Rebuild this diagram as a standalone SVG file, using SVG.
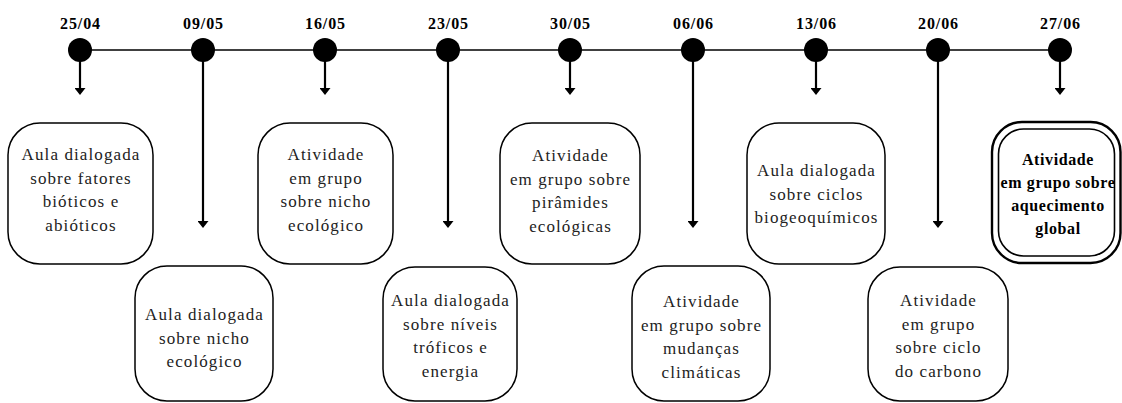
<svg xmlns="http://www.w3.org/2000/svg" width="1122" height="403" viewBox="0 0 1122 403">
<style>
.date{font-family:"Liberation Serif",serif;font-weight:bold;font-size:16px;letter-spacing:0.9px;text-anchor:middle;fill:#000}
.t{font-family:"Liberation Serif",serif;font-size:17px;letter-spacing:1.1px;text-anchor:middle;fill:#222}
.tb{font-family:"Liberation Serif",serif;font-weight:bold;font-size:16px;letter-spacing:0.6px;text-anchor:middle;fill:#000}
.box{fill:#fff;stroke:#000;stroke-width:1.5}
.arr{stroke:#000;stroke-width:2.2;fill:none;marker-end:url(#ah)}
</style>
<defs>
<marker id="ah" markerWidth="6" markerHeight="5" refX="0" refY="2.5" orient="auto" markerUnits="strokeWidth">
<path d="M0,0 L3.2,2.5 L0,5 Z" fill="#000"/>
</marker>
</defs>
<rect width="1122" height="403" fill="#fff"/>
<g id="connectors">
<line x1="80" y1="50" x2="1060" y2="50" stroke="#000" stroke-width="1.6"/>
<line class="arr" x1="80" y1="55" x2="80" y2="88"/>
<line class="arr" x1="203" y1="55" x2="203" y2="221"/>
<line class="arr" x1="325" y1="55" x2="325" y2="88"/>
<line class="arr" x1="448" y1="55" x2="448" y2="221"/>
<line class="arr" x1="570" y1="55" x2="570" y2="88"/>
<line class="arr" x1="693" y1="55" x2="693" y2="221"/>
<line class="arr" x1="816" y1="55" x2="816" y2="88"/>
<line class="arr" x1="938" y1="55" x2="938" y2="221"/>
<line class="arr" x1="1060" y1="55" x2="1060" y2="88"/>
</g>
<g id="dates">
<g id="d1"><circle cx="80" cy="50" r="12"/><text class="date" x="80.5" y="29">25/04</text></g>
<g id="d2"><circle cx="203" cy="50" r="12"/><text class="date" x="203.5" y="29">09/05</text></g>
<g id="d3"><circle cx="325" cy="50" r="12"/><text class="date" x="325.5" y="29">16/05</text></g>
<g id="d4"><circle cx="448" cy="50" r="12"/><text class="date" x="448.5" y="29">23/05</text></g>
<g id="d5"><circle cx="570" cy="50" r="12"/><text class="date" x="570.5" y="29">30/05</text></g>
<g id="d6"><circle cx="693" cy="50" r="12"/><text class="date" x="693.5" y="29">06/06</text></g>
<g id="d7"><circle cx="816" cy="50" r="12"/><text class="date" x="816.5" y="29">13/06</text></g>
<g id="d8"><circle cx="938" cy="50" r="12"/><text class="date" x="938.5" y="29">20/06</text></g>
<g id="d9"><circle cx="1060" cy="50" r="12"/><text class="date" x="1060.5" y="29">27/06</text></g>
</g>
<g id="n1">
<rect class="box" x="8" y="123" width="145" height="141" rx="32"/>
<text class="t" x="81" y="160">Aula dialogada</text>
<text class="t" x="81" y="183.5">sobre fatores</text>
<text class="t" x="81" y="207">bióticos e</text>
<text class="t" x="81" y="230.5">abióticos</text>
</g>
<g id="n2">
<rect class="box" x="135" y="266" width="138" height="135" rx="32"/>
<text class="t" x="204.5" y="320">Aula dialogada</text>
<text class="t" x="204.5" y="343.5">sobre nicho</text>
<text class="t" x="204.5" y="367">ecológico</text>
</g>
<g id="n3">
<rect class="box" x="258" y="123" width="135" height="141" rx="32"/>
<text class="t" x="326" y="160">Atividade</text>
<text class="t" x="326" y="183.5">em grupo</text>
<text class="t" x="326" y="207">sobre nicho</text>
<text class="t" x="326" y="230.5">ecológico</text>
</g>
<g id="n4">
<rect class="box" x="383" y="267" width="134" height="134" rx="32"/>
<text class="t" x="450.5" y="306">Aula dialogada</text>
<text class="t" x="450.5" y="329.5">sobre níveis</text>
<text class="t" x="450.5" y="353">tróficos e</text>
<text class="t" x="450.5" y="376.5">energia</text>
</g>
<g id="n5">
<rect class="box" x="500" y="123" width="140" height="141" rx="32"/>
<text class="t" x="570.5" y="161">Atividade</text>
<text class="t" x="570.5" y="184.5">em grupo sobre</text>
<text class="t" x="570.5" y="208">pirâmides</text>
<text class="t" x="570.5" y="231.5">ecológicas</text>
</g>
<g id="n6">
<rect class="box" x="632" y="266" width="138" height="135" rx="32"/>
<text class="t" x="701.5" y="307">Atividade</text>
<text class="t" x="701.5" y="330.5">em grupo sobre</text>
<text class="t" x="701.5" y="354">mudanças</text>
<text class="t" x="701.5" y="377.5">climáticas</text>
</g>
<g id="n7">
<rect class="box" x="747" y="123" width="138" height="141" rx="32"/>
<text class="t" x="816.5" y="176">Aula dialogada</text>
<text class="t" x="816.5" y="199.5">sobre ciclos</text>
<text class="t" x="816.5" y="223">biogeoquímicos</text>
</g>
<g id="n8">
<rect class="box" x="868" y="267" width="140" height="134" rx="32"/>
<text class="t" x="938.5" y="306">Atividade</text>
<text class="t" x="938.5" y="329.5">em grupo</text>
<text class="t" x="938.5" y="353">sobre ciclo</text>
<text class="t" x="938.5" y="376.5">do carbono</text>
</g>
<g id="n9">
<rect x="992" y="122" width="128.5" height="141" rx="30" fill="#fff" stroke="#000" stroke-width="2.4"/>
<rect x="998.5" y="129" width="116" height="127" rx="25" fill="none" stroke="#000" stroke-width="1.6"/>
<text class="tb" x="1058" y="165">Atividade</text>
<text class="tb" x="1058" y="188">em grupo sobre</text>
<text class="tb" x="1058" y="211">aquecimento</text>
<text class="tb" x="1058" y="234">global</text>
</g>
</svg>
